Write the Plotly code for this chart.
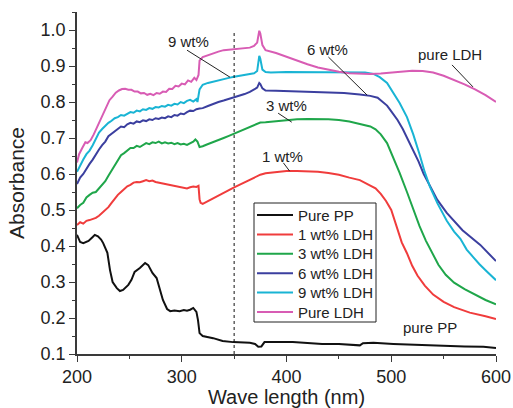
import plotly.graph_objects as go

# ---- spectra: wavelength (nm) and absorbance for each sample ----
pp_wl = [200, 203, 206, 211, 215, 217, 220, 223, 225, 229, 231.5, 234, 238, 241, 244, 249, 252, 255,
         260, 265, 268, 272, 276, 279, 282, 286, 289, 293, 298, 302, 305, 308, 311, 314, 315.5, 317,
         320, 330, 339, 349, 365, 370, 373, 376, 379, 406, 420, 434, 450, 468, 470, 473, 483, 502,
         520, 544, 570, 588, 600]
pp_abs = [0.431, 0.411, 0.408, 0.414, 0.425, 0.431, 0.427, 0.418, 0.408, 0.381, 0.333, 0.300, 0.283,
          0.275, 0.278, 0.292, 0.306, 0.328, 0.339, 0.353, 0.347, 0.325, 0.311, 0.283, 0.250, 0.225,
          0.219, 0.221, 0.219, 0.222, 0.220, 0.223, 0.228, 0.217, 0.194, 0.158, 0.150, 0.144, 0.136,
          0.133, 0.131, 0.128, 0.120, 0.121, 0.133, 0.133, 0.130, 0.128, 0.128, 0.126, 0.124, 0.130,
          0.131, 0.128, 0.126, 0.122, 0.121, 0.120, 0.117]

w1_wl = [200, 203, 206, 209, 212, 215, 218, 221, 224, 227, 230, 233, 236, 239, 242, 245, 248, 251,
         254, 257, 260, 263, 266, 269, 272, 275, 278, 281, 284, 287, 290, 293, 296, 299, 302, 305,
         308, 311, 314, 316, 317, 318, 320, 325, 330, 335, 340, 345, 350, 355, 360, 365, 370, 375,
         380, 390, 400, 410, 420, 430, 440, 450, 460, 470, 480, 485, 490, 495, 500, 505, 510, 515,
         520, 525, 532, 540, 550, 560, 575, 590, 600]
w1_abs = [0.458, 0.466, 0.462, 0.470, 0.472, 0.475, 0.478, 0.484, 0.492, 0.500, 0.508, 0.520, 0.532,
          0.542, 0.550, 0.558, 0.566, 0.570, 0.576, 0.578, 0.577, 0.580, 0.583, 0.580, 0.582, 0.578,
          0.576, 0.575, 0.572, 0.570, 0.568, 0.566, 0.565, 0.562, 0.562, 0.560, 0.563, 0.565, 0.564,
          0.567, 0.530, 0.520, 0.517, 0.525, 0.533, 0.540, 0.547, 0.555, 0.563, 0.570, 0.577, 0.585,
          0.593, 0.598, 0.602, 0.606, 0.608, 0.608, 0.608, 0.606, 0.603, 0.598, 0.590, 0.583, 0.568,
          0.560, 0.545, 0.525, 0.500, 0.455, 0.410, 0.380, 0.345, 0.318, 0.290, 0.265, 0.245, 0.230,
          0.215, 0.205, 0.197]

w3_wl = [200, 203, 206, 209, 212, 215, 218, 221, 224, 227, 230, 233, 236, 239, 242, 245, 248, 251,
         254, 257, 260, 263, 266, 269, 272, 275, 278, 281, 284, 287, 290, 293, 296, 299, 302, 305,
         308, 311, 313, 315, 317, 320, 324, 328, 332, 336, 340, 345, 350, 355, 360, 365, 370, 375,
         380, 390, 400, 410, 420, 430, 440, 450, 460, 470, 480, 485, 490, 496, 502, 508, 515, 521,
         527, 533, 540, 545, 552, 560, 570, 580, 590, 600]
w3_abs = [0.505, 0.514, 0.520, 0.535, 0.542, 0.548, 0.550, 0.560, 0.568, 0.580, 0.595, 0.610, 0.625,
          0.640, 0.652, 0.658, 0.665, 0.672, 0.672, 0.678, 0.675, 0.680, 0.686, 0.683, 0.688, 0.686,
          0.690, 0.685, 0.688, 0.685, 0.687, 0.683, 0.686, 0.682, 0.684, 0.681, 0.686, 0.690, 0.696,
          0.690, 0.675, 0.677, 0.682, 0.686, 0.690, 0.695, 0.700, 0.706, 0.712, 0.718, 0.724, 0.730,
          0.737, 0.743, 0.744, 0.747, 0.750, 0.752, 0.753, 0.753, 0.752, 0.750, 0.746, 0.739, 0.732,
          0.724, 0.710, 0.686, 0.647, 0.603, 0.550, 0.500, 0.455, 0.415, 0.375, 0.348, 0.320, 0.298,
          0.280, 0.265, 0.250, 0.238]

w6_wl = [200, 203, 206, 209, 212, 215, 218, 221, 224, 227, 230, 233, 236, 239, 242, 245, 248, 251,
         254, 257, 260, 263, 266, 269, 272, 275, 278, 281, 284, 287, 290, 293, 296, 299, 302, 305,
         308, 311, 314, 317, 320, 325, 330, 335, 340, 345, 350, 355, 360, 365, 369, 372, 374, 375,
         377, 380, 390, 400, 420, 440, 455, 470, 480, 487, 492, 496, 499, 503, 506, 511, 516, 521,
         526, 531, 537, 544, 553, 568, 585, 600]
w6_abs = [0.572, 0.590, 0.600, 0.615, 0.628, 0.640, 0.655, 0.668, 0.680, 0.690, 0.705, 0.712, 0.720,
          0.725, 0.732, 0.730, 0.738, 0.742, 0.740, 0.746, 0.744, 0.749, 0.747, 0.752, 0.750, 0.755,
          0.753, 0.757, 0.755, 0.760, 0.758, 0.764, 0.762, 0.768, 0.766, 0.772, 0.776, 0.775, 0.780,
          0.782, 0.783, 0.789, 0.795, 0.800, 0.804, 0.808, 0.812, 0.818, 0.822, 0.828, 0.835, 0.840,
          0.853, 0.850, 0.838, 0.832, 0.831, 0.830, 0.829, 0.827, 0.825, 0.821, 0.817, 0.812, 0.800,
          0.790, 0.778, 0.762, 0.750, 0.725, 0.695, 0.665, 0.635, 0.600, 0.565, 0.528, 0.492, 0.444,
          0.403, 0.358]

w9_wl = [200, 203, 206, 209, 212, 215, 218, 221, 224, 227, 230, 233, 236, 239, 242, 245, 248, 251,
         254, 257, 260, 263, 266, 269, 272, 275, 278, 281, 284, 287, 290, 293, 296, 299, 302, 305,
         308, 311, 314, 315, 317, 320, 325, 330, 335, 340, 345, 350, 355, 360, 365, 369, 372, 374,
         375, 377, 380, 385, 400, 420, 440, 460, 475, 483, 489, 496, 502, 508, 515, 521, 527, 532,
         537, 544, 553, 560, 566, 572, 578, 584, 591, 600]
w9_abs = [0.606, 0.625, 0.640, 0.655, 0.665, 0.680, 0.700, 0.715, 0.725, 0.735, 0.742, 0.748, 0.755,
          0.758, 0.764, 0.762, 0.768, 0.772, 0.770, 0.776, 0.774, 0.780, 0.778, 0.783, 0.781, 0.786,
          0.785, 0.789, 0.787, 0.792, 0.790, 0.795, 0.793, 0.800, 0.797, 0.803, 0.806, 0.801, 0.808,
          0.800, 0.835, 0.848, 0.853, 0.857, 0.860, 0.864, 0.867, 0.870, 0.873, 0.875, 0.877, 0.880,
          0.886, 0.928, 0.920, 0.890, 0.883, 0.882, 0.883, 0.883, 0.884, 0.883, 0.882, 0.878, 0.869,
          0.853, 0.825, 0.797, 0.758, 0.710, 0.655, 0.605, 0.564, 0.519, 0.470, 0.440, 0.420, 0.390,
          0.370, 0.350, 0.330, 0.305]

ldh_wl = [200, 202, 205, 208, 210, 213, 216, 219, 222, 225, 228, 231, 234, 237, 240, 243, 246, 249,
          252, 255, 258, 261, 264, 267, 270, 273, 276, 279, 282, 285, 288, 291, 294, 297, 300, 303,
          306, 309, 312, 314, 316, 317, 320, 325, 330, 335, 340, 345, 350, 355, 360, 365, 369, 372,
          374, 375, 377, 380, 390, 400, 410, 420, 430, 440, 450, 460, 470, 480, 490, 500, 510, 520,
          530, 540, 550, 560, 570, 580, 590, 600]
ldh_abs = [0.632, 0.655, 0.672, 0.688, 0.686, 0.694, 0.710, 0.730, 0.750, 0.765, 0.785, 0.805, 0.815,
           0.826, 0.832, 0.836, 0.837, 0.834, 0.834, 0.829, 0.829, 0.824, 0.825, 0.820, 0.823, 0.819,
           0.825, 0.823, 0.829, 0.828, 0.837, 0.836, 0.845, 0.843, 0.851, 0.849, 0.860, 0.856, 0.867,
           0.861, 0.875, 0.915, 0.925, 0.930, 0.937, 0.940, 0.944, 0.945, 0.947, 0.947, 0.948, 0.951,
           0.956, 0.965, 0.998, 0.990, 0.958, 0.944, 0.936, 0.925, 0.915, 0.905, 0.896, 0.889, 0.884,
           0.880, 0.878, 0.878, 0.879, 0.882, 0.885, 0.887, 0.886, 0.882, 0.873, 0.862, 0.849, 0.835,
           0.819, 0.800]

series = [
    ("Pure PP", pp_wl, pp_abs, "#111111"),
    ("1 wt% LDH", w1_wl, w1_abs, "#f03c3c"),
    ("3 wt% LDH", w3_wl, w3_abs, "#1fa64a"),
    ("6 wt% LDH", w6_wl, w6_abs, "#3b3f9f"),
    ("9 wt% LDH", w9_wl, w9_abs, "#19b4d4"),
    ("Pure LDH", ldh_wl, ldh_abs, "#d85cb4"),
]

# curve labels: (text, text x, text y, leader start, leader end)
labels = [
    ("9 wt%", 306, 0.969, (305, 0.944), (346, 0.869)),
    ("6 wt%", 439, 0.947, (440, 0.925), (477, 0.819)),
    ("pure LDH", 556, 0.931, (558, 0.903), (578, 0.842)),
    ("3 wt%", 400, 0.789, (392, 0.769), (405, 0.744)),
    ("1 wt%", 396, 0.650, (397, 0.631), (403, 0.608)),
    ("pure PP", 537, 0.175, None, None),
]

FONT = "Liberation Sans, Arial, sans-serif"
W, H = 513, 408
M_L, M_R, M_T, M_B = 77, 17, 12, 54
PW, PH = W - M_L - M_R, H - M_T - M_B


def px_to_paper(px, py):
    return (px - M_L) / PW, (H - M_B - py) / PH


fig = go.Figure()
for name, wl, ab, col in series:
    fig.add_trace(go.Scatter(x=wl, y=ab, mode="lines", name=name, showlegend=False,
                             line=dict(color=col, width=2)))

# reference wavelength marker
fig.add_shape(type="line", x0=350, x1=350, y0=0.1, y1=0.995, xref="x", yref="y",
              line=dict(color="#111111", width=1, dash="3px,3px"))

for text, tx, ty, p0, p1 in labels:
    fig.add_annotation(x=tx, y=ty, text=text, showarrow=False, xref="x", yref="y",
                       font=dict(family=FONT, size=15, color="#222222"))
    if p0 is not None:
        fig.add_shape(type="line", x0=p0[0], y0=p0[1], x1=p1[0], y1=p1[1], xref="x", yref="y",
                      line=dict(color="#222222", width=1))

# boxed key in the lower middle of the plot
box_x0, box_y0 = px_to_paper(254, 322)
box_x1, box_y1 = px_to_paper(376, 203)
fig.add_shape(type="rect", xref="paper", yref="paper", x0=box_x0, y0=box_y0, x1=box_x1, y1=box_y1,
              line=dict(color="#222222", width=1), fillcolor="white", layer="above")
row_top, row_step = 215.0, 19.4
for i, (name, _, _, col) in enumerate(series):
    ry = row_top + i * row_step
    lx0, ly = px_to_paper(257, ry)
    lx1, _ = px_to_paper(293, ry)
    tx, _ = px_to_paper(296, ry)
    fig.add_shape(type="line", xref="paper", yref="paper", x0=lx0, x1=lx1, y0=ly, y1=ly,
                  line=dict(color=col, width=2), layer="above")
    fig.add_annotation(x=tx, y=ly, xref="paper", yref="paper", text=name, showarrow=False,
                       xanchor="left", yanchor="middle",
                       font=dict(family=FONT, size=15, color="#222222"))

axis_common = dict(showline=True, linecolor="#3a3a3a", linewidth=1.5, ticks="outside",
                   ticklen=6, tickwidth=1.3, tickcolor="#3a3a3a", showgrid=False, zeroline=False,
                   tickfont=dict(family=FONT, size=18, color="#222222"), automargin=False)

fig.update_xaxes(range=[200, 600], tick0=200, dtick=100,
                 minor=dict(dtick=50, ticklen=3, tickcolor="#3a3a3a", tickwidth=1.3, ticks="outside"),
                 title=dict(text="Wave length (nm)", standoff=10,
                            font=dict(family=FONT, size=20, color="#222222")),
                 **axis_common)
fig.update_yaxes(range=[0.1, 1.05], tick0=0.1, dtick=0.1, tickformat=".1f",
                 minor=dict(dtick=0.05, ticklen=3, tickcolor="#3a3a3a", tickwidth=1.3, ticks="outside"),
                 title=dict(text="Absorbance", standoff=10,
                            font=dict(family=FONT, size=21, color="#222222")),
                 **axis_common)

fig.update_layout(
    width=W, height=H,
    margin=dict(l=M_L, r=M_R, t=M_T, b=M_B),
    paper_bgcolor="white", plot_bgcolor="white",
    font=dict(family=FONT, color="#222222"),
    showlegend=False,
)

fig.write_html("out.html")
